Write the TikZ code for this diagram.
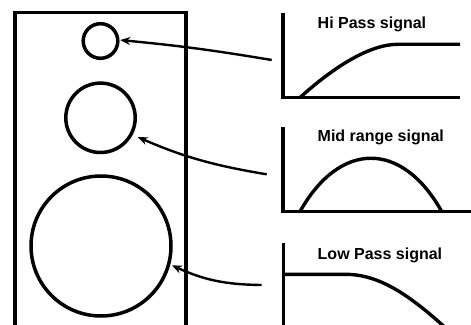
\documentclass[tikz,border=0pt]{standalone}
\usepackage{fontspec}
\setmainfont{Liberation Sans}
\usetikzlibrary{arrows.meta}
\begin{document}
\begin{tikzpicture}[x=1pt,y=1pt,
  driver/.style={circle,draw,line width=3.5pt,inner sep=0pt},
  arr/.style={line width=2.4pt,-{Stealth[length=10pt,width=8pt]}},
  axis/.style={line width=3.6pt,line cap=butt,line join=miter},
  sig/.style={line width=3.4pt},
  lbl/.style={anchor=base west,inner sep=0pt,font=\bfseries\fontsize{16}{18}\selectfont}]
\useasboundingbox (0,0) rectangle (471,324);
\begin{scope}
\clip (0,0) rectangle (471,324);
% cabinet
\draw[line width=3.6pt] (15,-10) -- (15,311.3) -- (186,311.3) -- (186,-10);
% drivers
\node[driver,minimum size=34.6pt] (c1) at (100.5,283) {};
\node[driver,minimum size=69.4pt] (c2) at (100.5,206.2) {};
\node[driver,minimum size=140pt] (c3) at (101,78) {};
% graphs: hi pass
\draw[axis] (282.7,311) -- (282.7,226.5) -- (460,226.5);
\draw[sig] (300,226.5) .. controls (335,258) and (370,279.7) .. (398,279.7) -- (460,279.7);
\node[lbl] (l1) at (317.5,295.7) {Hi Pass signal};
% mid range
\draw[axis] (282.7,197) -- (282.7,112.5) -- (475,112.5);
\draw[sig] (300,112.5) .. controls (340,183.5) and (402,183.5) .. (441.7,112.5);
\node[lbl] (l2) at (317.5,182.3) {Mid range signal};
% low pass
\draw[axis] (283.3,81.3) -- (283.3,-10);
\draw[sig] (283.3,49.7) -- (345,49.7) .. controls (378,49.7) and (408,31) .. (450,-8);
\node[lbl] (l3) at (317.5,64) {Low Pass signal};
% arrows
\coordinate (t1) at (271.7,264);
\coordinate (t2) at (266.7,149.7);
\coordinate (t3) at (261.7,39);
\draw[arr,shorten >=0.7pt] (t1) to[bend right=2] (c1.3);
\draw[arr,shorten >=5.5pt] (t2) to[bend left=7] (c2.-28);
\draw[arr,shorten >=1.7pt] (t3) to[bend left=12] (c3.-15);
\end{scope}
\end{tikzpicture}
\end{document}
